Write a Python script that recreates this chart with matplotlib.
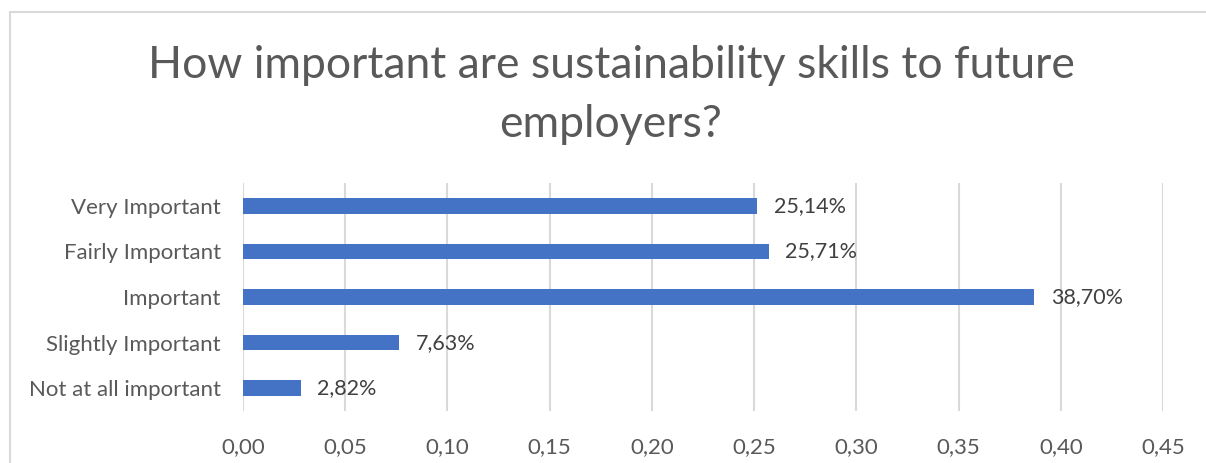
import matplotlib
matplotlib.use("Agg")
import matplotlib.pyplot as plt
from matplotlib.patches import Rectangle

categories = ["Not at all important", "Slightly Important", "Important",
              "Fairly Important", "Very Important"]
values = [0.0282, 0.0763, 0.3870, 0.2571, 0.2514]
xticks = [0.00, 0.05, 0.10, 0.15, 0.20, 0.25, 0.30, 0.35, 0.40, 0.45]

plt.rcParams['font.family'] = ['Lato', 'DejaVu Sans']

W, H = 1206, 463
fig = plt.figure(figsize=(W / 100, H / 100), dpi=100)

# chart border (runs off the right and bottom of the picture)
fig.patches.append(Rectangle((9.5 / W, -0.1), 1.2, 1 - 12.5 / H + 0.1,
                             transform=fig.transFigure, fill=False,
                             edgecolor="#D9D9D9", linewidth=1.5))

ax = fig.add_axes([243 / W, 1 - 411 / H, (1163 - 243) / W, (411 - 183) / H])
ypos = list(range(len(categories)))
ax.barh(ypos, values, height=0.34, color="#4472C4", zorder=3)

for y, v in zip(ypos, values):
    ax.text(v + 0.0082, y, f"{v * 100:.2f}%".replace(".", ","),
            va="center", ha="left", fontsize=15.5, color="#404040")

ax.set_xlim(0, 0.45)
ax.set_ylim(-0.5, 4.5)
ax.set_xticks(xticks)
ax.set_xticklabels([f"{t:.2f}".replace(".", ",") for t in xticks])
ax.set_yticks(ypos)
ax.set_yticklabels(categories)
ax.tick_params(axis="both", length=0, labelsize=16, labelcolor="#595959")
ax.tick_params(axis="y", pad=16)
ax.tick_params(axis="x", pad=19)
ax.grid(axis="x", color="#D9D9D9", linewidth=1.5, zorder=0)
for s in ax.spines.values():
    s.set_visible(False)

fig.text(611 / W, 1 - 65 / H, "How important are sustainability skills to future",
         ha="center", va="center", fontsize=32, color="#595959")
fig.text(611 / W, 1 - 125 / H, "employers?",
         ha="center", va="center", fontsize=32, color="#595959")

fig.savefig("out.png", dpi=100)
